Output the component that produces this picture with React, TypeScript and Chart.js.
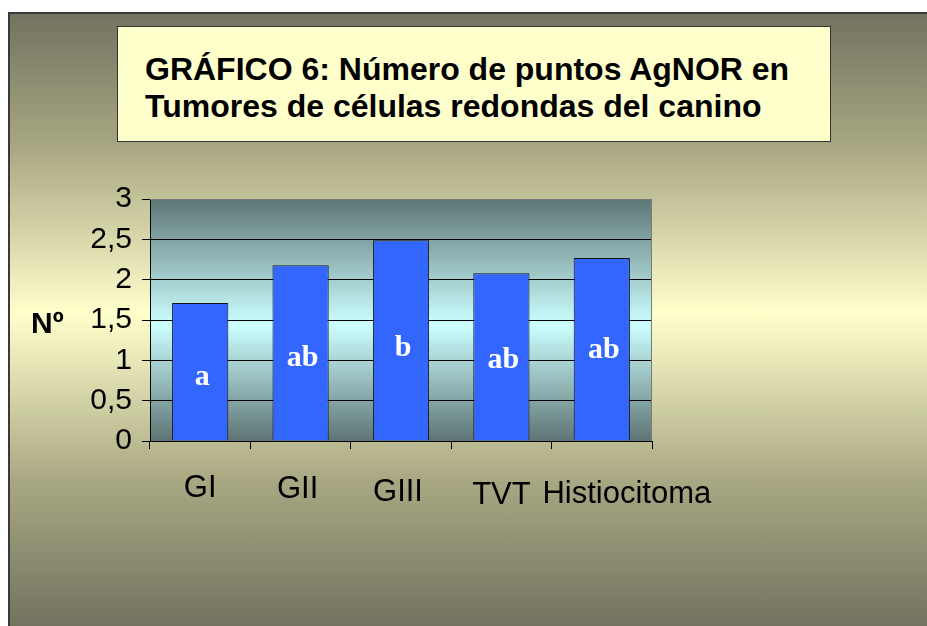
import React, { useEffect, useRef } from "react";
import { Chart, registerables } from "chart.js";

Chart.register(...registerables);

const categories = ["GI", "GII", "GIII", "TVT", "Histiocitoma"];
const values = [1.71, 2.18, 2.49, 2.08, 2.27];
const letters = ["a", "ab", "b", "ab", "ab"];
const letterLevels = [0.79, 1.02, 1.15, 1.0, 1.13];
const yMin = 0;
const yMax = 3;
const yStep = 0.5;
const titleLines = ["GRÁFICO 6: Número de puntos AgNOR en", "Tumores de células redondas del canino"];
const yAxisLabel = "Nº";

// small layout tweaks for category label placement (px)
const labelDx = [0, -3, -3, 0, 25];
const labelDy = [0, 1, 4, 7, 6];

const SANS = "Arial, 'Liberation Sans', sans-serif";
const SERIF = "'Times New Roman', 'Liberation Serif', serif";

export default function App() {
  const ref = useRef<HTMLCanvasElement | null>(null);

  useEffect(() => {
    const canvas = ref.current;
    if (!canvas) return;

    const plotBg = {
      id: "plotBg",
      beforeDraw(chart: any) {
        const { ctx, chartArea: a } = chart;
        const g = ctx.createLinearGradient(0, a.top, 0, a.bottom);
        g.addColorStop(0, "#5e7676");
        g.addColorStop(0.52, "#ccffff");
        g.addColorStop(1, "#5e7474");
        ctx.save();
        ctx.fillStyle = g;
        ctx.fillRect(a.left, a.top, a.right - a.left, a.bottom - a.top);
        ctx.restore();
      },
      afterDatasetsDraw(chart: any) {
        const { ctx } = chart;
        const meta = chart.getDatasetMeta(0);
        const yScale = chart.scales.y;
        ctx.save();
        ctx.fillStyle = "#ffffff";
        ctx.font = `bold 30px ${SERIF}`;
        ctx.textAlign = "center";
        ctx.textBaseline = "middle";
        meta.data.forEach((bar: any, i: number) => {
          ctx.fillText(letters[i], bar.x + 2, yScale.getPixelForValue(letterLevels[i]));
        });
        ctx.restore();
      },
      afterDraw(chart: any) {
        const { ctx, chartArea: a } = chart;
        const xScale = chart.scales.x;
        ctx.save();
        // plot frame (top/right)
        ctx.strokeStyle = "#7a7a7a";
        ctx.lineWidth = 1;
        ctx.beginPath();
        ctx.moveTo(a.left, a.top + 0.5);
        ctx.lineTo(a.right - 0.5, a.top + 0.5);
        ctx.lineTo(a.right - 0.5, a.bottom);
        ctx.stroke();
        // category labels
        ctx.fillStyle = "#000000";
        ctx.font = `31px ${SANS}`;
        ctx.textAlign = "center";
        ctx.textBaseline = "alphabetic";
        categories.forEach((c, i) => {
          ctx.fillText(c, xScale.getPixelForValue(i) + labelDx[i], a.bottom + 56 + labelDy[i]);
        });
        // axis label
        ctx.font = `bold 30px ${SANS}`;
        ctx.textAlign = "left";
        ctx.fillText(yAxisLabel, 31, 333);
        ctx.restore();
      },
    };

    const chart = new Chart(canvas, {
      type: "bar",
      data: {
        labels: categories,
        datasets: [
          {
            data: values,
            backgroundColor: "#3366ff",
            borderColor: "#111111",
            borderWidth: 1,
            barPercentage: 0.56,
            categoryPercentage: 1,
          },
        ],
      },
      options: {
        responsive: false,
        animation: false,
        layout: { padding: { left: 0, top: 199, right: 275, bottom: 0 } },
        plugins: {
          legend: { display: false },
          title: { display: false },
          tooltip: { enabled: false },
        },
        scales: {
          x: {
            offset: true,
            afterFit: (s: any) => {
              s.height = 185;
            },
            border: { display: true, color: "#000000", width: 1 },
            grid: {
              offset: true,
              drawOnChartArea: false,
              drawTicks: true,
              tickLength: 8,
              color: "#000000",
            },
            ticks: { display: false },
          },
          y: {
            min: yMin,
            max: yMax,
            afterFit: (s: any) => {
              s.width = 150;
            },
            border: { display: true, color: "#000000", width: 1 },
            grid: {
              color: (c: any) => (c.tick && c.tick.value === yMax ? "#6a6a6a" : "#000000"),
              tickColor: "#000000",
              tickLength: 8,
              lineWidth: 1,
            },
            ticks: {
              stepSize: yStep,
              padding: 10,
              color: "#000000",
              font: { family: SANS, size: 30 },
              callback: (v: any) => String(v).replace(".", ","),
            },
          },
        },
      },
      plugins: [plotBg],
    });

    return () => chart.destroy();
  }, []);

  return (
    <div
      style={{
        position: "fixed",
        left: 0,
        top: 0,
        width: 927,
        height: 626,
        overflow: "hidden",
        background: "#ffffff",
      }}
    >
      <div
        style={{
          position: "absolute",
          left: 8,
          top: 12,
          width: 940,
          height: 614,
          boxSizing: "border-box",
          borderLeft: "2px solid #3a3a3a",
          borderTop: "2px solid #3a3a3a",
          background:
            "linear-gradient(to bottom, #737360 0%, #a9a883 22%, #ffffcc 49%, #a9a883 76%, #737360 100%)",
        }}
      />
      <div
        style={{
          position: "absolute",
          left: 117,
          top: 26,
          width: 714,
          height: 116,
          boxSizing: "border-box",
          background: "#ffffcc",
          border: "1px solid #333333",
          padding: "24px 0 0 27px",
          fontFamily: SANS,
          fontWeight: "bold",
          fontSize: 32,
          lineHeight: "37px",
          color: "#000000",
          whiteSpace: "nowrap",
        }}
      >
        {titleLines.map((l, i) => (
          <div key={i}>{l}</div>
        ))}
      </div>
      <canvas ref={ref} width={927} height={626} style={{ position: "absolute", left: 0, top: 0 }} />
    </div>
  );
}
